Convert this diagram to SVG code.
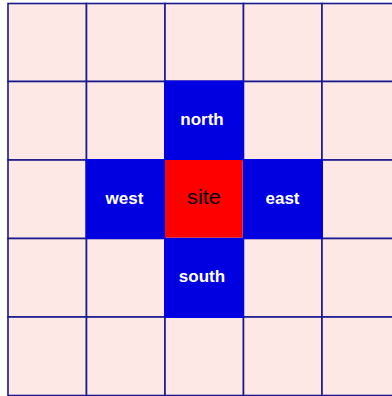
<svg xmlns="http://www.w3.org/2000/svg" width="392" height="396" viewBox="0 0 392 396">
<style>
.cell{fill:#fde8e6;stroke:#1a1a8c;stroke-width:1.6}
.nb{fill:#0000e0}
.st{fill:#ff0000}
.lbl{font-family:"Liberation Sans",Arial,sans-serif;font-size:17px;font-weight:bold;fill:#ffffff;text-anchor:middle}
.slbl{font-family:"Liberation Sans",Arial,sans-serif;font-size:20px;fill:#000000;text-anchor:middle}
</style>
<rect width="392" height="396" fill="#ffffff"/>
<g id="grid">
<rect class="cell" x="8" y="3.5" width="78.5" height="78"/>
<rect class="cell" x="86.5" y="3.5" width="78.5" height="78"/>
<rect class="cell" x="165" y="3.5" width="78.5" height="78"/>
<rect class="cell" x="243.5" y="3.5" width="78.5" height="78"/>
<rect class="cell" x="322" y="3.5" width="78.5" height="78"/>
<rect class="cell" x="8" y="81.5" width="78.5" height="78.5"/>
<rect class="cell" x="86.5" y="81.5" width="78.5" height="78.5"/>
<rect class="cell" x="165" y="81.5" width="78.5" height="78.5"/>
<rect class="cell" x="243.5" y="81.5" width="78.5" height="78.5"/>
<rect class="cell" x="322" y="81.5" width="78.5" height="78.5"/>
<rect class="cell" x="8" y="160" width="78.5" height="78.5"/>
<rect class="cell" x="86.5" y="160" width="78.5" height="78.5"/>
<rect class="cell" x="165" y="160" width="78.5" height="78.5"/>
<rect class="cell" x="243.5" y="160" width="78.5" height="78.5"/>
<rect class="cell" x="322" y="160" width="78.5" height="78.5"/>
<rect class="cell" x="8" y="238.5" width="78.5" height="78.5"/>
<rect class="cell" x="86.5" y="238.5" width="78.5" height="78.5"/>
<rect class="cell" x="165" y="238.5" width="78.5" height="78.5"/>
<rect class="cell" x="243.5" y="238.5" width="78.5" height="78.5"/>
<rect class="cell" x="322" y="238.5" width="78.5" height="78.5"/>
<rect class="cell" x="8" y="317" width="78.5" height="78.5"/>
<rect class="cell" x="86.5" y="317" width="78.5" height="78.5"/>
<rect class="cell" x="165" y="317" width="78.5" height="78.5"/>
<rect class="cell" x="243.5" y="317" width="78.5" height="78.5"/>
<rect class="cell" x="322" y="317" width="78.5" height="78.5"/>
</g>
<g id="north"><rect class="nb" x="164" y="80.5" width="80" height="80"/><text class="lbl" x="202" y="125">north</text></g>
<g id="west"><rect class="nb" x="85.5" y="159" width="80" height="80"/><text class="lbl" x="124.5" y="203.5">west</text></g>
<g id="east"><rect class="nb" x="243" y="159" width="80" height="80"/><text class="lbl" x="282.5" y="203.5">east</text></g>
<g id="south"><rect class="nb" x="164" y="238" width="80" height="80"/><text class="lbl" x="202" y="282">south</text></g>
<g id="site"><rect class="st" x="165" y="160" width="77.5" height="77.5"/><text class="slbl" x="204" y="203.5" textLength="34" lengthAdjust="spacingAndGlyphs">site</text></g>
</svg>
